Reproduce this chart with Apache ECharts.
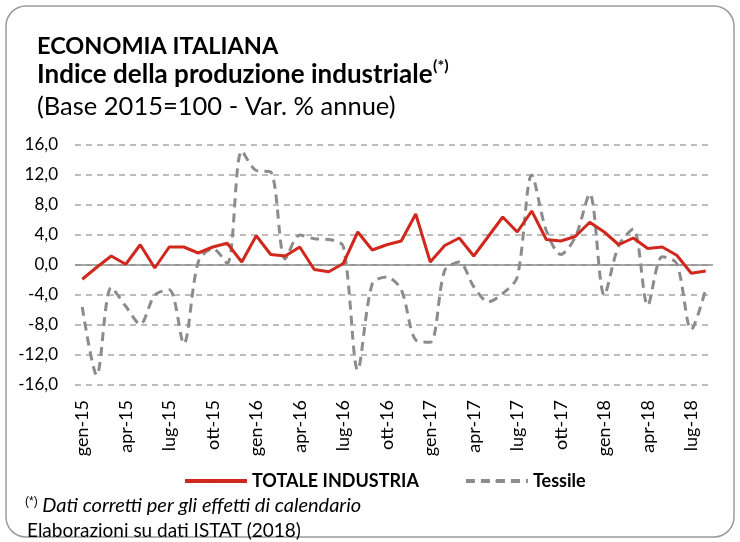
<!DOCTYPE html>
<html>
<head>
<meta charset="utf-8">
<script src="https://cdn.jsdelivr.net/npm/echarts@6/dist/echarts.min.js"></script>
<style>
  html, body { margin: 0; padding: 0; background: #fff; }
  #chart { width: 740px; height: 542px; }
</style>
</head>
<body>
<div id="chart"></div>
<script>
// mesi: gen-15 .. ago-18
var mesi = ['gen','feb','mar','apr','mag','giu','lug','ago','set','ott','nov','dic'];
var categorie = [];
for (var a = 15; a <= 18; a++) {
    for (var m = 0; m < 12; m++) {
        if (a == 18 && m > 7) break;
        categorie.push(mesi[m] + '-' + a);
    }
}

var totaleIndustria = [
    -1.9, -0.3, 1.2, 0.1, 2.7, -0.4, 2.4, 2.4, 1.6, 2.4, 2.9, 0.4,
    3.9, 1.4, 1.2, 2.4, -0.6, -0.9, 0.2, 4.4, 2.0, 2.7, 3.2, 6.8,
    0.4, 2.6, 3.6, 1.2, 3.8, 6.4, 4.4, 7.2, 3.4, 3.2, 3.8, 5.7,
    4.4, 2.7, 3.6, 2.2, 2.4, 1.3, -1.1, -0.8
];

var tessile = [
    -5.6, -14.7, -3.0, -5.5, -7.9, -4.0, -3.3, -10.5, 0.4, 2.2, 0.2, 15.2,
    12.6, 12.4, 0.8, 4.0, 3.5, 3.4, 2.5, -14.0, -2.5, -1.6, -3.3, -10.0,
    -10.3, -0.7, 0.4, -2.9, -4.9, -3.8, -1.6, 12.0, 4.6, 1.4, 3.7, 9.5,
    -4.0, 2.6, 4.8, -5.4, 1.1, 0.2, -8.6, -3.2
];

var myChart = echarts.init(document.getElementById('chart'));
var font = 'Lato, "Open Sans", sans-serif';

var option = {
    animation: false,
    backgroundColor: '#fff',
    textStyle: { fontFamily: font },
    title: [
        {
            text: 'ECONOMIA ITALIANA',
            left: 32, top: 29,
            textStyle: { fontSize: 23.5, fontWeight: 'bold', color: '#000', fontFamily: font }
        },
        {
            text: 'Indice della produzione industriale',
            left: 32, top: 57,
            textStyle: { fontSize: 26, fontWeight: 'bold', color: '#000', fontFamily: font }
        },
        {
            text: '(Base 2015=100 - Var. % annue)',
            left: 32, top: 89,
            textStyle: { fontSize: 25.5, fontWeight: 'normal', color: '#000', fontFamily: font }
        }
    ],
    legend: {
        top: 467,
        left: 178,
        itemWidth: 62,
        itemGap: 45,
        itemHeight: 4,
        textStyle: { fontSize: 18, fontWeight: 'bold', color: '#000', fontFamily: font },
        data: [
            { name: 'TOTALE INDUSTRIA', lineStyle: { width: 4 } },
            { name: 'Tessile', lineStyle: { width: 4 } }
        ]
    },
    grid: { left: 75, right: 27, top: 145, bottom: 157 },
    xAxis: {
        type: 'category',
        data: categorie,
        boundaryGap: true,
        axisLine: { show: false },
        axisTick: { show: false },
        axisLabel: {
            interval: 2,
            rotate: 90,
            color: '#000',
            fontSize: 18,
            margin: 15,
            fontFamily: font
        },
        splitLine: { show: false }
    },
    yAxis: {
        type: 'value',
        min: -16, max: 16, interval: 4,
        axisLine: { show: false },
        axisTick: { show: false },
        axisLabel: {
            color: '#000', fontSize: 17, margin: 17, fontFamily: font,
            formatter: function (v) { return v.toFixed(1).replace('.', ','); }
        },
        splitLine: { lineStyle: { color: '#a6a6a6', type: [6, 5], width: 1.5 } }
    },
    series: [
        {
            name: 'TOTALE INDUSTRIA',
            type: 'line',
            data: totaleIndustria,
            symbol: 'none',
            z: 3,
            lineStyle: { color: '#d0281c', width: 3 },
            itemStyle: { color: '#d0281c' },
            markLine: {
                silent: true,
                symbol: 'none',
                label: { show: false },
                lineStyle: { color: '#8c8c8c', type: 'solid', width: 1.5 },
                data: [{ yAxis: 0 }],
                z: 1
            }
        },
        {
            name: 'Tessile',
            type: 'line',
            data: tessile,
            symbol: 'none',
            smooth: 0.3,
            z: 2,
            lineStyle: { color: '#8c8c8c', width: 3, type: [9, 6] },
            itemStyle: { color: '#8c8c8c' }
        }
    ],
    graphic: [
        {
            type: 'rect',
            shape: { x: 6, y: 6, width: 728, height: 531, r: 20 },
            style: { fill: 'none', stroke: '#9a9a9a', lineWidth: 1.5 },
            silent: true
        },
        {
            type: 'text',
            left: 433, top: 58,
            style: { text: '(*)', fill: '#000', font: 'bold 16px ' + font }
        },
        {
            type: 'text',
            left: 25, top: 496,
            style: {
                text: '{sup|(*)} Dati corretti per gli effetti di calendario',
                fill: '#000',
                font: 'italic 20px ' + font,
                rich: { sup: { fontSize: 12, fontStyle: 'normal', verticalAlign: 'top', padding: [0, 0, 8, 0] } }
            }
        },
        {
            type: 'text',
            left: 27, top: 521,
            style: { text: 'Elaborazioni su dati ISTAT (2018)', fill: '#000', font: '19px ' + font }
        }
    ]
};

myChart.setOption(option);
</script>
</body>
</html>
